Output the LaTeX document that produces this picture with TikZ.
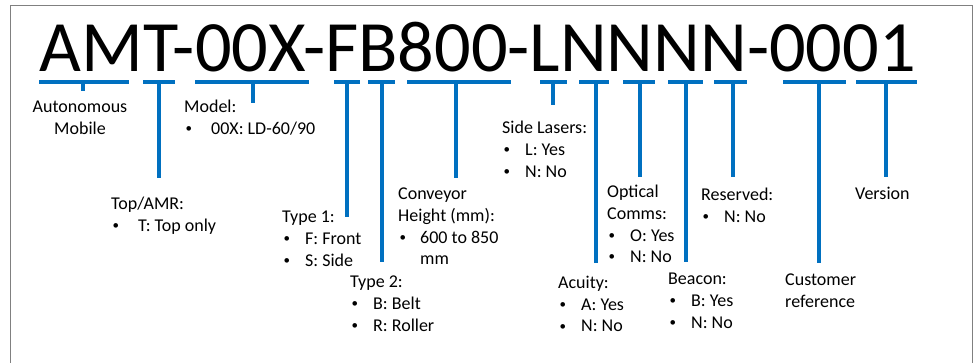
\documentclass[tikz,border=0pt]{standalone}
\usepackage{fontspec}
\setmainfont{Carlito}
\definecolor{barblue}{RGB}{0,112,192}
\definecolor{framegray}{RGB}{128,128,128}
\newcommand{\itm}[2][23pt]{\makebox[#1][l]{\hspace{1.5pt}\raisebox{1.8pt}{\fontsize{13}{13}\selectfont\textbullet}}#2}

\begin{document}
\begin{tikzpicture}[x=1pt, y=1pt,
    font=\fontsize{18}{21.7}\selectfont,
    code/.style={font=\fontsize{72.3}{72}\selectfont, inner sep=0pt, anchor=base west},
    bar/.style={fill=barblue, inner sep=0pt, minimum height=4pt},
    stem/.style={draw=barblue, line width=4pt},
    field/.style={inner sep=0pt, align=left, anchor=north west, execute at begin node={\rule{0pt}{15pt}}}
  ]
    \useasboundingbox (0,0) rectangle (978,-363);
    % frame, open at the bottom
    \draw[framegray, line width=1.5pt] (10.5,-363) -- (10.5,-5.5) -- (972.5,-5.5) -- (972.5,-363);

    % Part number
    \node[code] (pn) at (39.5,-72) {AMT-00X-FB800-LNNNN-0001};

    % Bars under the characters
    \node[bar, minimum width=90pt] (am) at (84,-82) {};
    \node[bar, minimum width=32pt] (top) at (159,-82) {};
    \node[bar, minimum width=114pt] (model) at (252,-82) {};
    \node[bar, minimum width=26pt] (ty1) at (347,-82) {};
    \node[bar, minimum width=27pt] (ty2) at (381.5,-82) {};
    \node[bar, minimum width=104pt] (conv) at (459,-82) {};
    \node[bar, minimum width=27pt] (side) at (553.5,-82) {};
    \node[bar, minimum width=30pt] (acu) at (594,-82) {};
    \node[bar, minimum width=32pt] (opt) at (639,-82) {};
    \node[bar, minimum width=35pt] (bea) at (685.5,-82) {};
    \node[bar, minimum width=33pt] (res) at (730.5,-82) {};
    \node[bar, minimum width=63pt] (cust) at (814.5,-82) {};
    \node[bar, minimum width=61pt] (ver) at (886.5,-82) {};

    % Stem ends
    \coordinate (am-e) at (83,-91);
    \coordinate (top-e) at (159,-178);
    \coordinate (model-e) at (253,-103);
    \coordinate (ty1-e) at (347,-217);
    \coordinate (ty2-e) at (382,-262);
    \coordinate (conv-e) at (456,-178);
    \coordinate (side-e) at (553,-105);
    \coordinate (acu-e) at (596,-263);
    \coordinate (opt-e) at (640,-177);
    \coordinate (bea-e) at (686,-262);
    \coordinate (res-e) at (733,-177);
    \coordinate (cust-e) at (819,-263);
    \coordinate (ver-e) at (886,-177);

    \draw[stem] (am-e |- am.center) -- (am-e);
    \draw[stem] (top-e |- top.center) -- (top-e);
    \draw[stem] (model-e |- model.center) -- (model-e);
    \draw[stem] (ty1-e |- ty1.center) -- (ty1-e);
    \draw[stem] (ty2-e |- ty2.center) -- (ty2-e);
    \draw[stem] (conv-e |- conv.center) -- (conv-e);
    \draw[stem] (side-e |- side.center) -- (side-e);
    \draw[stem] (acu-e |- acu.center) -- (acu-e);
    \draw[stem] (opt-e |- opt.center) -- (opt-e);
    \draw[stem] (bea-e |- bea.center) -- (bea-e);
    \draw[stem] (res-e |- res.center) -- (res-e);
    \draw[stem] (cust-e |- cust.center) -- (cust-e);
    \draw[stem] (ver-e |- ver.center) -- (ver-e);

    % Field descriptions
    \node[field, align=center, anchor=north] (am-t) at (80,-101) {Autonomous\\Mobile};
    \node[field] (top-t) at (111,-197) {Top/AMR:\\\itm[27pt]{T: Top only}};
    \node[field] (model-t) at (184,-100) {Model:\\\itm[27pt]{00X: LD-60/90}};
    \node[field] (ty1-t) at (282,-211) {Type 1:\\\itm{F: Front}\\\itm{S: Side}};
    \node[field] (ty2-t) at (350,-276) {Type 2:\\\itm{B: Belt}\\\itm{R: Roller}};
    \node[field] (conv-t) at (398,-188) {Conveyor\\Height (mm):\\\itm[22pt]{600 to 850}\\\hspace*{22pt}mm};
    \node[field] (side-t) at (502,-121) {Side Lasers:\\\itm{L: Yes}\\\itm{N: No}};
    \node[field] (acu-t) at (558,-276) {Acuity:\\\itm{A: Yes}\\\itm{N: No}};
    \node[field] (opt-t) at (607,-185) {Optical\\Comms:\\\itm{O: Yes}\\\itm{N: No}};
    \node[field] (bea-t) at (668,-273) {Beacon:\\\itm{B: Yes}\\\itm{N: No}};
    \node[field] (res-t) at (701,-188) {Reserved:\\\itm{N: No}};
    \node[field] (cust-t) at (785,-274) {Customer\\reference};
    \node[field] (ver-t) at (855,-184) {Version};
\end{tikzpicture}
\end{document}
